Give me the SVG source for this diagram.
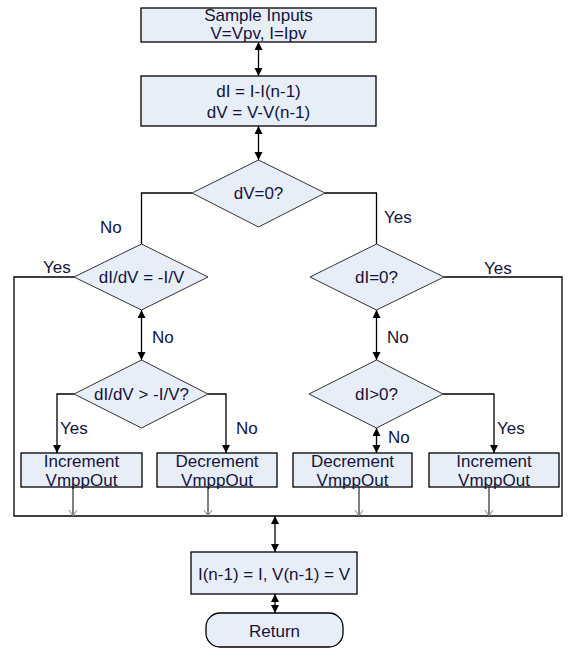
<svg xmlns="http://www.w3.org/2000/svg" width="578" height="658" viewBox="0 0 578 658">
<defs>
<style>
.box{fill:#e8eef8;stroke:#000;stroke-width:1.3}
.dia{fill:#e8eef8;stroke:#333;stroke-width:1}
text{font-family:"Liberation Sans",Arial,sans-serif;font-size:17px;fill:#14143c}
.c{text-anchor:middle}
.ln{fill:none;stroke:#000;stroke-width:1.3}
.thin{fill:none;stroke:#000;stroke-width:1}
</style>
<marker id="ah" markerUnits="userSpaceOnUse" markerWidth="10" markerHeight="10" refX="8" refY="4" orient="auto-start-reverse">
<path d="M0,0 L8,4 L0,8 z" fill="#000"/>
</marker>
<marker id="oa" markerUnits="userSpaceOnUse" markerWidth="12" markerHeight="12" refX="6" refY="4" orient="auto">
<path d="M0,0 L6,4 L0,8" fill="none" stroke="#888" stroke-width="1"/>
</marker>
</defs>
<rect width="578" height="658" fill="#fff"/>
<g id="connectors">
<line class="ln" x1="258.5" y1="42" x2="258.5" y2="76" marker-start="url(#ah)" marker-end="url(#ah)"/>
<line class="ln" x1="258.5" y1="126" x2="258.5" y2="160" marker-start="url(#ah)" marker-end="url(#ah)"/>
<polyline class="ln" points="192,193 141.5,193 141.5,244"/>
<polyline class="ln" points="325,193 376.5,193 376.5,244"/>
<polyline class="ln" points="74,277 14,277 14,516 562,516 562,277 444,277"/>
<line class="ln" x1="141.5" y1="310" x2="141.5" y2="360" marker-start="url(#ah)" marker-end="url(#ah)"/>
<line class="ln" x1="376.5" y1="310" x2="376.5" y2="360" marker-start="url(#ah)" marker-end="url(#ah)"/>
<polyline class="ln" points="74,394 57,394 57,453" marker-end="url(#ah)"/>
<polyline class="ln" points="208,394 226,394 226,453" marker-end="url(#ah)"/>
<polyline class="ln" points="443,394 494,394 494,453" marker-end="url(#ah)"/>
<line class="ln" x1="376.5" y1="428" x2="376.5" y2="453" marker-start="url(#ah)" marker-end="url(#ah)"/>
<line class="thin" x1="73" y1="487" x2="73" y2="516" marker-end="url(#oa)"/>
<line class="thin" x1="208" y1="487" x2="208" y2="516" marker-end="url(#oa)"/>
<line class="thin" x1="359" y1="487" x2="359" y2="516" marker-end="url(#oa)"/>
<line class="thin" x1="489" y1="487" x2="489" y2="516" marker-end="url(#oa)"/>
<line class="ln" x1="275" y1="516" x2="275" y2="552" marker-start="url(#ah)" marker-end="url(#ah)"/>
<line class="ln" x1="275" y1="594" x2="275" y2="613" marker-start="url(#ah)" marker-end="url(#ah)"/>
</g>
<g id="labels">
<text x="100" y="233">No</text>
<text x="43" y="273">Yes</text>
<text x="152" y="343">No</text>
<text x="384" y="223">Yes</text>
<text x="484" y="274">Yes</text>
<text x="387" y="343">No</text>
<text x="60" y="434">Yes</text>
<text x="236" y="434">No</text>
<text x="388" y="443">No</text>
<text x="497" y="434">Yes</text>
</g>
<g id="sample">
<rect class="box" x="141" y="8" width="235" height="34"/>
<text class="c" x="258.5" y="21">Sample Inputs</text>
<text class="c" x="258.5" y="39">V=Vpv, I=Ipv</text>
</g>
<g id="diff">
<rect class="box" x="141" y="76" width="235" height="50"/>
<text class="c" x="258.5" y="97">dI = I-I(n-1)</text>
<text class="c" x="258.5" y="118">dV = V-V(n-1)</text>
</g>
<g id="dv0">
<polygon class="dia" points="258.5,160 325,193 258.5,227 192,193"/>
<text class="c" x="258.5" y="199">dV=0?</text>
</g>
<g id="didv">
<polygon class="dia" points="141.5,244 208,277 141.5,310 74,277"/>
<text class="c" x="141.5" y="283">dI/dV = -I/V</text>
</g>
<g id="di0">
<polygon class="dia" points="376.5,244 444,277 376.5,310 310,277"/>
<text class="c" x="376.5" y="283">dI=0?</text>
</g>
<g id="didvgt">
<polygon class="dia" points="141.5,360 208,394 141.5,428 74,394"/>
<text class="c" x="141.5" y="400">dI/dV &gt; -I/V?</text>
</g>
<g id="digt0">
<polygon class="dia" points="376.5,360 443,394 376.5,428 309,394"/>
<text class="c" x="376.5" y="400">dI&gt;0?</text>
</g>
<g id="inc1">
<rect class="box" x="21" y="453" width="121" height="34"/>
<text class="c" x="81.5" y="467">Increment</text>
<text class="c" x="81.5" y="486">VmppOut</text>
</g>
<g id="dec1">
<rect class="box" x="157" y="453" width="120" height="34"/>
<text class="c" x="217" y="467">Decrement</text>
<text class="c" x="217" y="486">VmppOut</text>
</g>
<g id="dec2">
<rect class="box" x="293" y="453" width="119" height="34"/>
<text class="c" x="352.5" y="467">Decrement</text>
<text class="c" x="352.5" y="486">VmppOut</text>
</g>
<g id="inc2">
<rect class="box" x="429" y="453" width="130" height="34"/>
<text class="c" x="494" y="467">Increment</text>
<text class="c" x="494" y="486">VmppOut</text>
</g>
<g id="update">
<rect class="box" x="191" y="552" width="166" height="42"/>
<text class="c" x="274" y="580">I(n-1) = I, V(n-1) = V</text>
</g>
<g id="return">
<rect class="box" x="206" y="613" width="137" height="34" rx="14" ry="14"/>
<text class="c" x="274.5" y="637">Return</text>
</g>
</svg>
